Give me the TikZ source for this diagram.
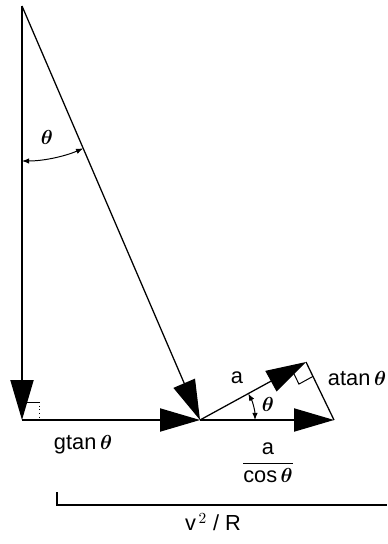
\documentclass[tikz,border=0pt]{standalone}
\usepackage{fontspec}
\setmainfont{Liberation Sans}
\usepackage{amsmath}
\usetikzlibrary{arrows.meta,angles,calc}

\begin{document}
\begin{tikzpicture}[x=0.25mm,y=-0.25mm,line width=0.9pt,
  every node/.style={font=\fontsize{15.5}{18}\selectfont,inner sep=1pt},
  big/.style={-{Triangle[length=10mm,width=5.8mm]}},
  small/.style={{Latex[length=1.8mm,width=1.4mm]}-{Latex[length=1.8mm,width=1.4mm]}}]
\useasboundingbox (0,0) rectangle (387,544);

\coordinate (T) at (22,6);
\coordinate (F) at (22,420);
\coordinate (O) at (200,420);
\coordinate (P) at (306,362);
\coordinate (Q) at (334,420);

\draw[big] (T) -- (F);
\draw[big] (T) -- (O);
\draw[big] (F) -- (O);
\draw[big] (O) -- (P);
\draw[big] (O) -- (Q);
\draw (P) -- (Q);

% right angles
\coordinate (f1) at ($(F)+(0,-18)$);
\coordinate (f2) at ($(F)+(17,-18)$);
\coordinate (f3) at ($(F)+(17,0)$);
\draw[line width=0.6pt] (f1) -- (f2);
\draw[line width=0.6pt,dotted] (f2) -- (f3);
\coordinate (m1) at ($(P)!4mm!(O)$);
\coordinate (m2) at ($(P)!4mm!(Q)$);
\draw[line width=0.7pt] (m1) -- ($(m1)+(m2)-(P)$) -- (m2);

% angles
\pic[draw,small,line width=0.7pt,angle radius=38.75mm] {angle=F--T--O};
\pic[draw,small,line width=0.7pt,angle radius=13.75mm] {angle=Q--O--P};

\node (th1) at (47,137) {$\boldsymbol{\theta}$};
\node (th2) at (268,404) {$\boldsymbol{\theta}$};
\node (gt) at (83,445) {gtan\,$\boldsymbol{\theta}$};
\node (la) at (237,378) {a};
\node (at) at (357,379) {atan\,$\boldsymbol{\theta}$};
\node (ac) at (268,463) {$\dfrac{\text{a}}{\text{cos}\,\boldsymbol{\theta}}$};
\node (vr) at (213,522) {v$^{\,2}$ / R};

% bracket
\coordinate (B1) at (57,492);
\coordinate (B2) at (57,505);
\coordinate (B3) at (387,505);
\draw (B1) -- (B2) -- (B3);

\end{tikzpicture}
\end{document}
